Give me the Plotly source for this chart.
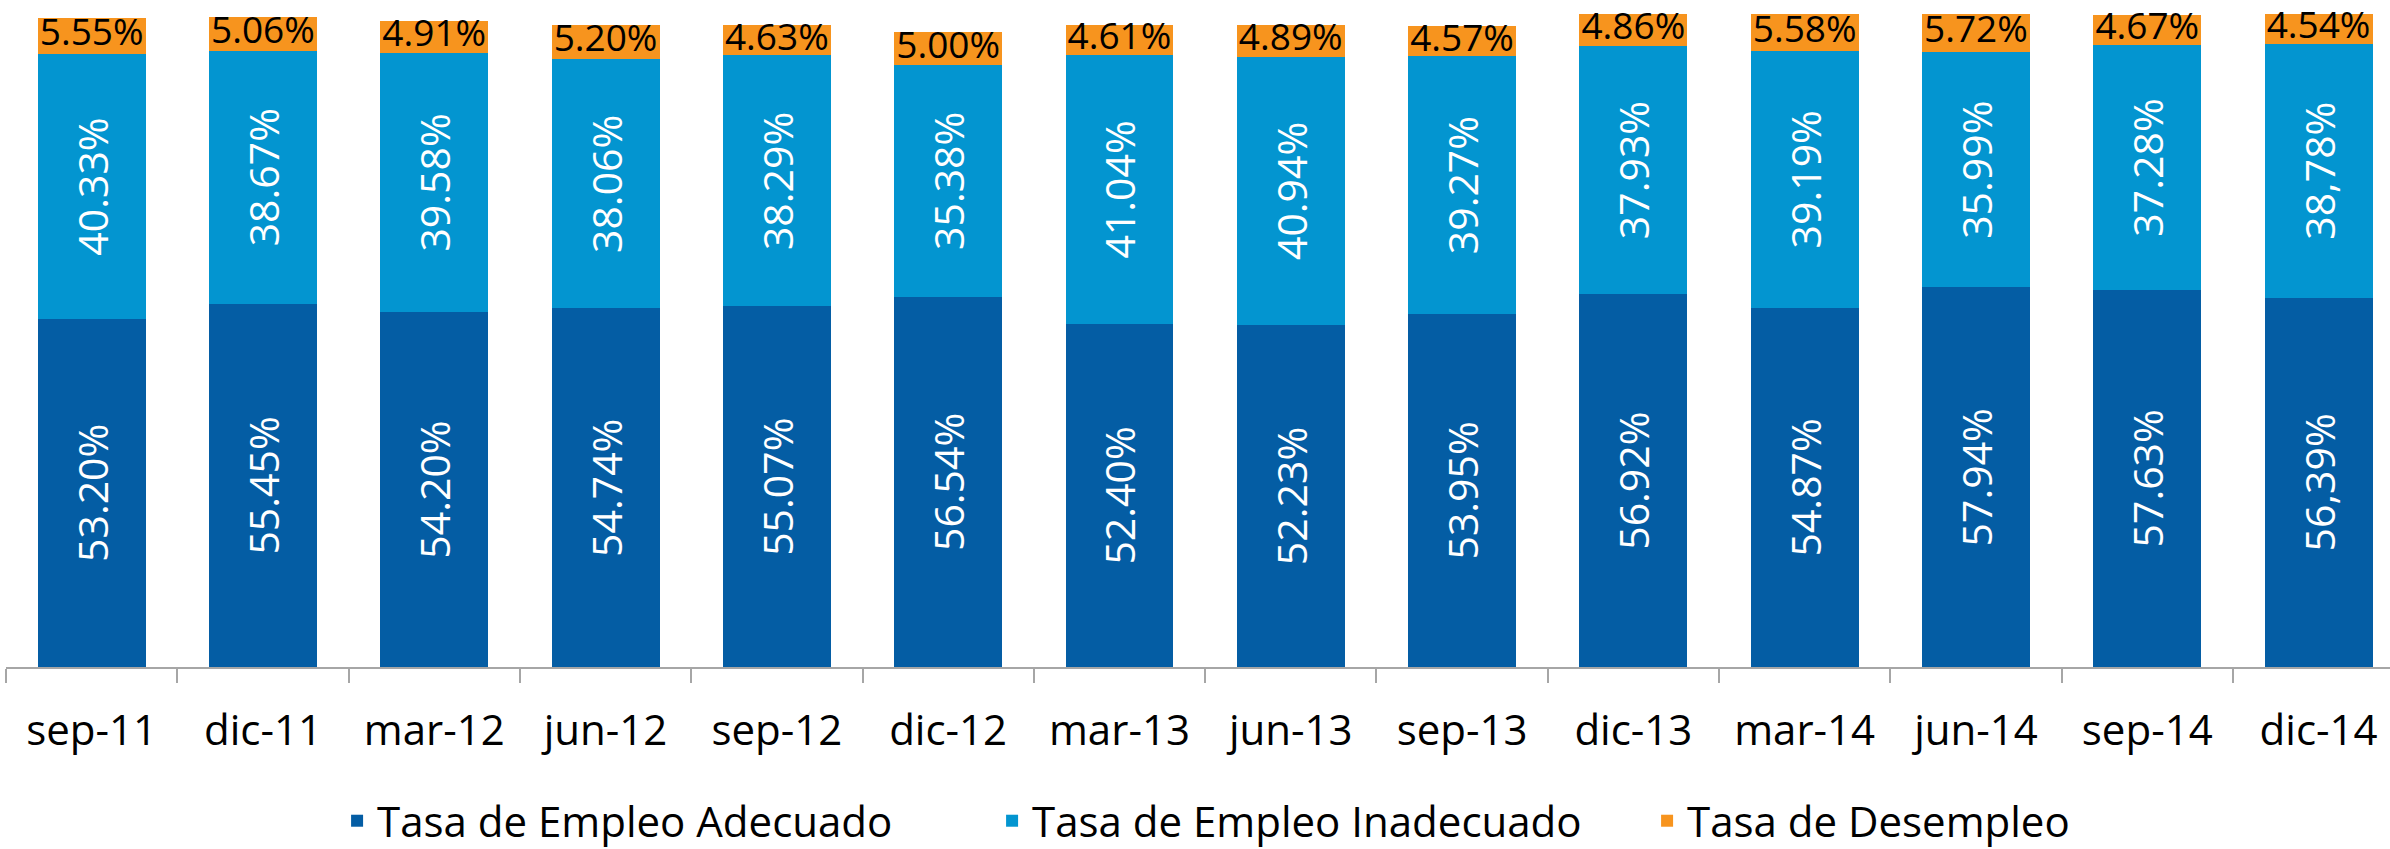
import plotly.graph_objects as go

categories = ["sep-11", "dic-11", "mar-12", "jun-12", "sep-12", "dic-12", "mar-13",
              "jun-13", "sep-13", "dic-13", "mar-14", "jun-14", "sep-14", "dic-14"]

adecuado = [53.20, 55.45, 54.20, 54.74, 55.07, 56.54, 52.40, 52.23, 53.95, 56.92, 54.87, 57.94, 57.63, 56.39]
inadecuado = [40.33, 38.67, 39.58, 38.06, 38.29, 35.38, 41.04, 40.94, 39.27, 37.93, 39.19, 35.99, 37.28, 38.78]
desempleo = [5.55, 5.06, 4.91, 5.20, 4.63, 5.00, 4.61, 4.89, 4.57, 4.86, 5.58, 5.72, 4.67, 4.54]

adecuado_labels = ["53.20%", "55.45%", "54.20%", "54.74%", "55.07%", "56.54%", "52.40%",
                   "52.23%", "53.95%", "56.92%", "54.87%", "57.94%", "57.63%", "56,39%"]
inadecuado_labels = ["40.33%", "38.67%", "39.58%", "38.06%", "38.29%", "35.38%", "41.04%",
                     "40.94%", "39.27%", "37.93%", "39.19%", "35.99%", "37.28%", "38,78%"]
desempleo_labels = ["5.55%", "5.06%", "4.91%", "5.20%", "4.63%", "5.00%", "4.61%",
                    "4.89%", "4.57%", "4.86%", "5.58%", "5.72%", "4.67%", "4.54%"]

series_names = ["Tasa de Empleo Adecuado", "Tasa de Empleo Inadecuado", "Tasa de Desempleo"]
colors = ["#045DA4", "#0395D0", "#F7941E"]

FONT = "Open Sans"
BAR_W = 0.63

# middle of the orange segment, derived from the stacked values
desempleo_mid = [a + b + c / 2 for a, b, c in zip(adecuado, inadecuado, desempleo)]

fig = go.Figure()
fig.add_trace(go.Bar(
    x=categories, y=adecuado, name=series_names[0], text=adecuado_labels,
    textposition="inside", insidetextanchor="middle", textangle=-90, constraintext="none",
    textfont=dict(family=FONT, size=41, color="white"),
    marker=dict(color=colors[0], line=dict(width=0)), width=BAR_W, cliponaxis=False,
))
fig.add_trace(go.Bar(
    x=categories, y=inadecuado, name=series_names[1], text=inadecuado_labels,
    textposition="inside", insidetextanchor="middle", textangle=-90, constraintext="none",
    textfont=dict(family=FONT, size=41, color="white"),
    marker=dict(color=colors[1], line=dict(width=0)), width=BAR_W, cliponaxis=False,
))
fig.add_trace(go.Bar(
    x=categories, y=desempleo, name=series_names[2],
    marker=dict(color=colors[2], line=dict(width=0)), width=BAR_W, cliponaxis=False,
))
fig.add_trace(go.Scatter(
    x=categories, y=desempleo_mid, text=desempleo_labels, mode="text",
    textposition="middle center", textfont=dict(family=FONT, size=37, color="black"),
    showlegend=False, hoverinfo="skip", cliponaxis=False,
))

fig.update_layout(
    width=2390, height=849,
    barmode="stack",
    paper_bgcolor="white", plot_bgcolor="white",
    margin=dict(l=6, r=0, t=12, b=182, autoexpand=False),
    font=dict(family=FONT, color="black"),
    showlegend=True,
    legend=dict(
        orientation="h", x=0.551, xanchor="center", y=-0.235, yanchor="middle",
        font=dict(family=FONT, size=42, color="black"),
        traceorder="normal", entrywidth=610, itemwidth=30,
    ),
    xaxis=dict(
        type="category", range=[-0.5, 13.417],
        showline=True, linecolor="#A6A6A6", linewidth=1.5,
        ticks="outside", tickson="boundaries", ticklen=14, tickcolor="#A6A6A6", tickwidth=1.5,
        tickfont=dict(family=FONT, size=42, color="black"),
        ticklabelstandoff=26,
        showgrid=False, zeroline=False, automargin=False,
    ),
    yaxis=dict(range=[0, 100], visible=False, showgrid=False, zeroline=False),
)

fig.write_html("out.html", config={"displayModeBar": False},
               post_script="document.body.style.margin='0';")
